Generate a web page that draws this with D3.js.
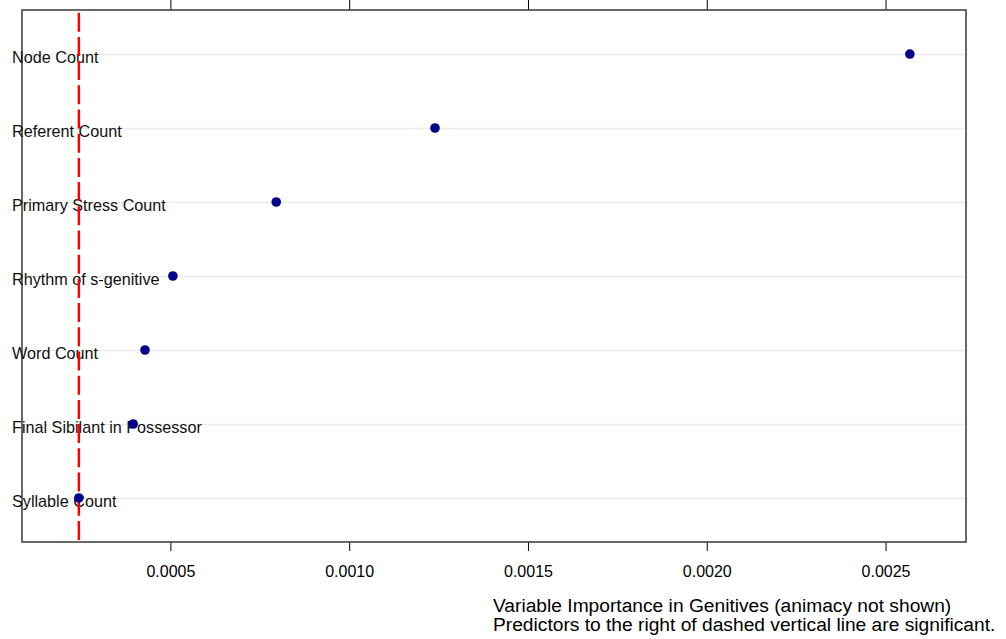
<!DOCTYPE html>
<html lang="en">

<head>
  <meta charset="UTF-8">
  <title>Variable Importance</title>
  <script src="https://d3js.org/d3.v7.min.js"></script>
  <style>
    body { margin: 0; background: #fff; }
    text { font-family: "Liberation Sans", Arial, sans-serif; }
  </style>
</head>

<body>
  <script>
    // predictors, top to bottom
    let predictors = ['Node Count', 'Referent Count', 'Primary Stress Count', 'Rhythm of s-genitive',
      'Word Count', 'Final Sibilant in Possessor', 'Syllable Count']
    let importance = [0.002568, 0.001240, 0.000796, 0.000507, 0.000429, 0.000396, 0.000244]
    let cutoff = [0.000244]
    let tickValues = [0.0005, 0.0010, 0.0015, 0.0020, 0.0025]
    let captionLines = ['Variable Importance in Genitives (animacy not shown)',
      'Predictors to the right of dashed vertical line are significant.']

    let width = 1006, height = 639
    let panel = { left: 22, right: 966, top: 10, bottom: 542 }

    let svg = d3.select('body')
      .append('svg')
      .attr('width', width)
      .attr('height', height)

    let x = d3.scaleLinear()
      .domain([0.000085, 0.002725])
      .range([panel.left, panel.right])

    let y = d3.scalePoint()
      .domain(predictors)
      .range([panel.top, panel.bottom])
      .padding(0.595)

    // light grid lines per row
    svg.selectAll('line.grid')
      .data(predictors)
      .enter()
      .append('line')
      .attr('class', 'grid')
      .attr('x1', panel.left)
      .attr('x2', panel.right)
      .attr('y1', d => y(d) + 0.5)
      .attr('y2', d => y(d) + 0.5)
      .style('stroke', '#ebebeb')
      .style('stroke-width', 1.5)

    // axes top & bottom
    let fmt = d3.format('.4f')
    let bottomAxis = svg.append('g')
      .attr('transform', `translate(0,${panel.bottom})`)
      .call(d3.axisBottom(x).tickValues(tickValues).tickFormat(fmt).tickSize(9).tickPadding(15))
    bottomAxis.select('.domain').remove()
    bottomAxis.selectAll('line').style('stroke', '#000')
    bottomAxis.selectAll('text').style('font-size', '16px').style('fill', '#000')
      .style('font-family', '"Liberation Sans", Arial, sans-serif')

    let topAxis = svg.append('g')
      .attr('transform', `translate(0,${panel.top})`)
      .call(d3.axisTop(x).tickValues(tickValues).tickFormat('').tickSize(10))
    topAxis.select('.domain').remove()
    topAxis.selectAll('line').style('stroke', '#000')

    // frame
    svg.append('rect')
      .attr('x', panel.left)
      .attr('y', panel.top)
      .attr('width', panel.right - panel.left)
      .attr('height', panel.bottom - panel.top)
      .style('fill', 'none')
      .style('stroke', '#444')
      .style('stroke-width', 1.6)

    // labels
    svg.selectAll('text.lab')
      .data(predictors)
      .enter()
      .append('text')
      .attr('class', 'lab')
      .attr('x', 12)
      .attr('y', d => y(d) + 9)
      .style('font-size', '16.2px')
      .style('fill', '#111')
      .text(d => d)

    // significance cutoff
    svg.selectAll('line.cut')
      .data(cutoff)
      .enter()
      .append('line')
      .attr('class', 'cut')
      .attr('x1', d => x(d))
      .attr('x2', d => x(d))
      .attr('y1', panel.top)
      .attr('y2', panel.bottom)
      .style('stroke', '#ff0000')
      .style('stroke-width', 2.5)
      .style('stroke-dasharray', '19,5.2')
      .style('stroke-dashoffset', 21.5)

    // points
    svg.selectAll('circle')
      .data(predictors)
      .enter()
      .append('circle')
      .attr('cx', (d, i) => x(importance[i]))
      .attr('cy', d => y(d))
      .attr('r', 4.8)
      .style('fill', '#00008b')

    // caption
    svg.selectAll('text.cap')
      .data(captionLines)
      .enter()
      .append('text')
      .attr('class', 'cap')
      .attr('x', 493)
      .attr('y', (d, i) => 612 + i * 19)
      .style('font-size', '19.2px')
      .style('fill', '#000')
      .text(d => d)
  </script>
</body>

</html>
